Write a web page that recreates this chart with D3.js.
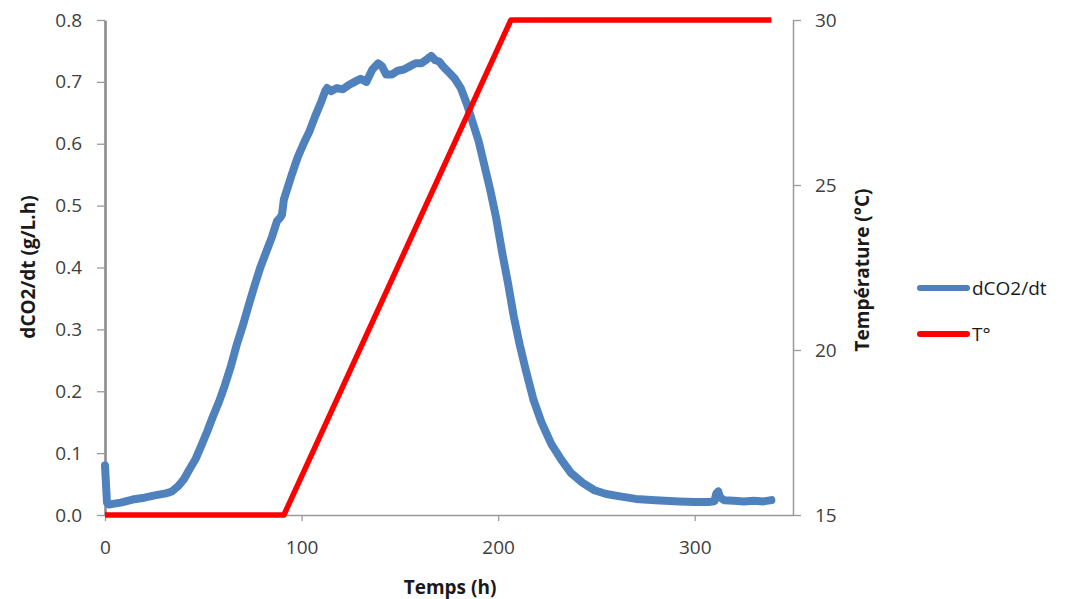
<!DOCTYPE html>
<html>
<head>
<meta charset="utf-8">
<script src="https://cdn.jsdelivr.net/npm/d3@7/dist/d3.min.js"></script>
<style>
  html, body { margin: 0; padding: 0; background: #fff; }
  svg { display: block; }
  text { font-family: "Open Sans", sans-serif; }
</style>
</head>
<body>
<svg id="chart" width="1070" height="599"></svg>
<script>
// ---- Data ----
const co2Time = [0, 0.5, 1, 2, 4, 8, 14, 20, 26, 31, 34, 37, 40, 43, 46, 49, 52, 55, 58, 61, 64, 67, 70, 73, 76, 79, 82, 85, 87.5, 89, 90, 91, 92, 95, 98, 101, 104, 107, 110, 112, 113, 115, 118, 121, 124, 127, 130, 133, 136, 139, 141, 143, 146, 149, 152, 155, 158, 161, 164, 166, 168, 170, 172, 175, 178, 181, 184, 187, 190, 193, 196, 199, 202, 205, 208, 211, 214, 218, 222, 227, 232, 237, 243, 249, 255, 262, 270, 280, 292, 300, 307, 310, 311, 312, 313, 315, 320, 325, 330, 335, 339];
const co2Values = [0.08, 0.05, 0.02, 0.017, 0.018, 0.02, 0.025, 0.028, 0.032, 0.035, 0.038, 0.046, 0.057, 0.074, 0.09, 0.112, 0.135, 0.16, 0.183, 0.21, 0.24, 0.275, 0.305, 0.338, 0.37, 0.40, 0.425, 0.45, 0.475, 0.48, 0.485, 0.51, 0.52, 0.55, 0.578, 0.60, 0.62, 0.645, 0.668, 0.685, 0.69, 0.685, 0.69, 0.688, 0.695, 0.70, 0.705, 0.70, 0.72, 0.73, 0.725, 0.712, 0.712, 0.718, 0.72, 0.725, 0.73, 0.73, 0.737, 0.742, 0.735, 0.733, 0.725, 0.715, 0.705, 0.69, 0.665, 0.635, 0.605, 0.565, 0.525, 0.48, 0.425, 0.375, 0.32, 0.275, 0.235, 0.186, 0.15, 0.115, 0.09, 0.068, 0.052, 0.04, 0.034, 0.03, 0.026, 0.024, 0.022, 0.021, 0.021, 0.022, 0.035, 0.038, 0.028, 0.024, 0.023, 0.022, 0.023, 0.022, 0.024];
const tempTime = [0, 91, 206.5, 339];
const tempValues = [15, 15, 30, 30];
const xTicks = [0, 100, 200, 300];
const yLeftTicks = [0, 0.1, 0.2, 0.3, 0.4, 0.5, 0.6, 0.7, 0.8];
const yRightTicks = [15, 20, 25, 30];
const seriesNames = ["dCO2/dt", "T°"];
const seriesColors = ["#4F81BD", "#FF0000"];

// ---- Layout ----
const svg = d3.select("#chart");
const x = d3.scaleLinear().domain([0, 350]).range([105, 793]);
const yL = d3.scaleLinear().domain([0, 0.8]).range([515, 20]);
const yR = d3.scaleLinear().domain([15, 30]).range([515, 20]);

// X axis
const gx = svg.append("g").attr("transform", "translate(0,515)")
  .call(d3.axisBottom(x).tickValues(xTicks).tickFormat(d3.format("d")).tickSize(6).tickPadding(20).tickSizeOuter(0));
gx.select(".domain").attr("stroke", "#9a9a9a").attr("stroke-width", 1.3);
gx.selectAll(".tick line").attr("stroke", "#9a9a9a").attr("stroke-width", 1.3);
gx.selectAll(".tick text").attr("font-size", 19).attr("fill", "#404040").attr("font-family", "Open Sans");

// Left axis
const gl = svg.append("g").attr("transform", "translate(105,0)")
  .call(d3.axisLeft(yL).tickValues(yLeftTicks).tickFormat(d3.format(".1f")).tickSize(8).tickPadding(15).tickSizeOuter(0));
gl.select(".domain").attr("stroke", "#8c8c8c").attr("stroke-width", 2.6);
gl.selectAll(".tick line").attr("stroke", "#9a9a9a").attr("stroke-width", 1.3);
gl.selectAll(".tick text").attr("font-size", 19).attr("fill", "#404040").attr("font-family", "Open Sans");

// Right axis
const gr = svg.append("g").attr("transform", "translate(793,0)")
  .call(d3.axisRight(yR).tickValues(yRightTicks).tickFormat(d3.format("d")).tickSize(8).tickPadding(14).tickSizeOuter(0));
gr.select(".domain").attr("stroke", "#9a9a9a").attr("stroke-width", 1.5);
gr.selectAll(".tick line").attr("stroke", "#9a9a9a").attr("stroke-width", 1.3);
gr.selectAll(".tick text").attr("font-size", 19).attr("fill", "#404040").attr("font-family", "Open Sans");

// Series
const co2Data = co2Time.map((t, i) => [t, co2Values[i]]);
const tempData = tempTime.map((t, i) => [t, tempValues[i]]);

svg.append("path").datum(co2Data)
  .attr("fill", "none").attr("stroke", seriesColors[0]).attr("stroke-width", 8)
  .attr("stroke-linejoin", "round").attr("stroke-linecap", "round")
  .attr("d", d3.line().x(d => x(d[0])).y(d => yL(d[1])));

svg.append("path").datum(tempData)
  .attr("fill", "none").attr("stroke", seriesColors[1]).attr("stroke-width", 5.5)
  .attr("stroke-linejoin", "round")
  .attr("d", d3.line().x(d => x(d[0])).y(d => yR(d[1])));

// Axis titles
svg.append("text").attr("x", 450).attr("y", 594).attr("text-anchor", "middle")
  .attr("font-size", 19).attr("font-weight", "bold").attr("fill", "#1a1a1a").text("Temps (h)");
svg.append("text").attr("transform", "translate(35,267) rotate(-90)").attr("text-anchor", "middle")
  .attr("font-size", 19).attr("font-weight", "bold").attr("fill", "#1a1a1a").text("dCO2/dt (g/L.h)");
svg.append("text").attr("transform", "translate(869,270) rotate(-90)").attr("text-anchor", "middle")
  .attr("font-size", 19).attr("font-weight", "bold").attr("fill", "#1a1a1a").text("Température (°C)");

// Legend
const legendY = [288, 334];
seriesNames.forEach((name, i) => {
  svg.append("line").attr("x1", 920).attr("x2", 967).attr("y1", legendY[i]).attr("y2", legendY[i])
    .attr("stroke", seriesColors[i]).attr("stroke-width", 6).attr("stroke-linecap", "round");
  svg.append("text").attr("x", 972).attr("y", legendY[i]).attr("dy", "0.35em")
    .attr("font-size", 19).attr("fill", "#1a1a1a").text(name);
});
</script>
</body>
</html>
